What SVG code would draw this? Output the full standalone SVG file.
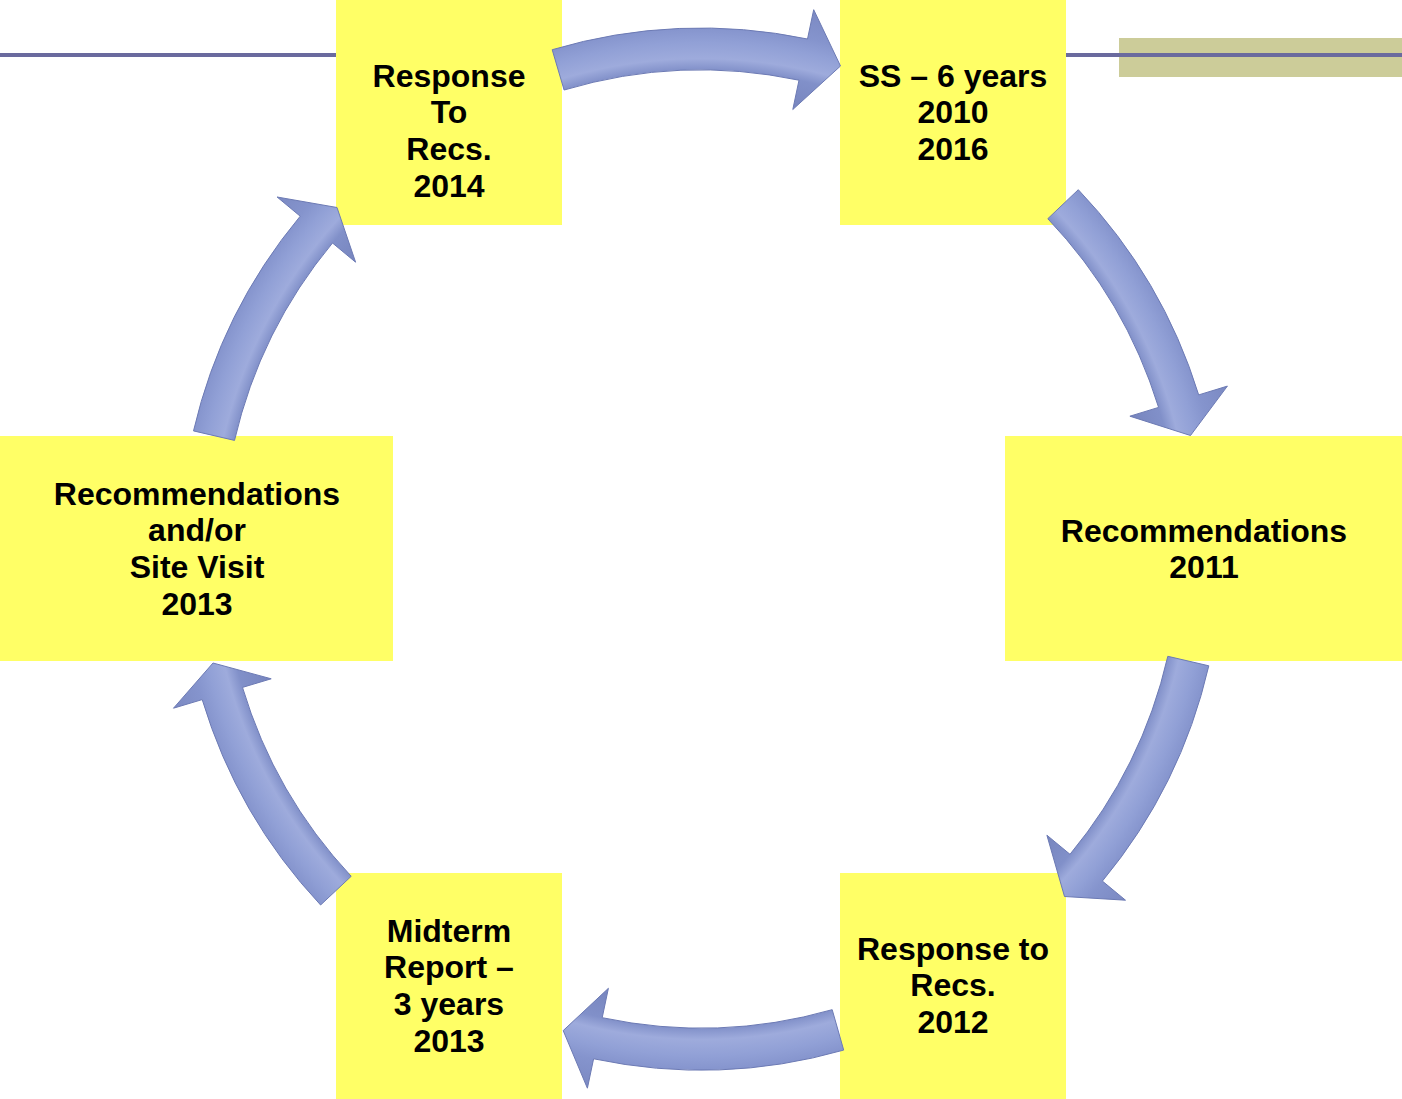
<svg xmlns="http://www.w3.org/2000/svg" width="1402" height="1099" viewBox="0 0 1402 1099">
<style>
.box{fill:#ffff66}
.t{font-family:"Liberation Sans",Arial,sans-serif;font-weight:bold;font-size:32px;fill:#000;text-anchor:middle}
.arr{fill:url(#tube);stroke:#6c7ab4;stroke-width:1;stroke-linejoin:miter}
</style>
<defs>
<radialGradient id="tube" gradientUnits="userSpaceOnUse" cx="701" cy="549" r="551">
<stop offset="0.81" stop-color="#7684bd"/>
<stop offset="0.869" stop-color="#8190c9"/>
<stop offset="0.89" stop-color="#9eabdc"/>
<stop offset="0.92" stop-color="#91a0d6"/>
<stop offset="0.946" stop-color="#8594cd"/>
<stop offset="1" stop-color="#7b89c2"/>
</radialGradient>
</defs>
<rect width="1402" height="1099" fill="#ffffff"/>
<g id="decor">
<rect x="1119" y="38" width="283" height="39" fill="#cccc99"/>
<line x1="0" y1="55" x2="336" y2="55" stroke="#6a6a9e" stroke-width="4"/>
<line x1="1066" y1="55" x2="1402" y2="55" stroke="#6a6a9e" stroke-width="4"/>
</g>
<g id="n1">
<rect class="box" x="336" y="0" width="226" height="225"/>
<text class="t"><tspan x="449" y="86.5">Response</tspan><tspan x="449" y="123.3">To</tspan><tspan x="449" y="160">Recs.</tspan><tspan x="449" y="196.8">2014</tspan></text>
</g>
<g id="n2">
<rect class="box" x="840" y="0" width="226" height="225"/>
<text class="t"><tspan x="953" y="86.5">SS – 6 years</tspan><tspan x="953" y="123.3">2010</tspan><tspan x="953" y="160">2016</tspan></text>
</g>
<g id="n3">
<rect class="box" x="1005" y="436" width="397" height="225"/>
<text class="t"><tspan x="1204" y="541.5">Recommendations</tspan><tspan x="1204" y="578.3">2011</tspan></text>
</g>
<g id="n4">
<rect class="box" x="840" y="873" width="226" height="226"/>
<text class="t"><tspan x="953" y="959.5">Response to</tspan><tspan x="953" y="996.3">Recs.</tspan><tspan x="953" y="1033">2012</tspan></text>
</g>
<g id="n5">
<rect class="box" x="336" y="873" width="226" height="226"/>
<text class="t"><tspan x="449" y="941.5">Midterm</tspan><tspan x="449" y="978.3">Report –</tspan><tspan x="449" y="1015">3 years</tspan><tspan x="449" y="1051.8">2013</tspan></text>
</g>
<g id="n6">
<rect class="box" x="0" y="436" width="393" height="225"/>
<text class="t"><tspan x="197" y="504.5">Recommendations</tspan><tspan x="197" y="541.3">and/or</tspan><tspan x="197" y="578.1">Site Visit</tspan><tspan x="197" y="614.9">2013</tspan></text>
</g>
<g id="connectors">
<path class="arr" d="M552.2,49.7 A521,521 0 0 1 807.5,39 L813.7,9.7 L840.5,66 L792.8,109.5 L799,80.2 A479,479 0 0 0 564.1,90 Z"/>
<path class="arr" d="M1078.3,189.7 A521,521 0 0 1 1198.7,394.9 L1227.4,386.1 L1190.5,435.5 L1129.9,416.2 L1158.6,407.4 A479,479 0 0 0 1047.8,218.7 Z"/>
<path class="arr" d="M1208.8,665.8 A521,521 0 0 1 1102.4,881.1 L1125.5,900.2 L1064.5,896.5 L1046.9,835.2 L1070,854.3 A479,479 0 0 0 1167.8,656.3 Z"/>
<path class="arr" d="M843.7,1050.1 A521,521 0 0 1 593.6,1058.8 L587.4,1088.2 L563.2,1030.6 L608.4,988.3 L602.2,1017.7 A479,479 0 0 0 832.2,1009.7 Z"/>
<path class="arr" d="M320.6,905 A521,521 0 0 1 202.2,699.6 L173.5,708.2 L213,663 L271.2,678.8 L242.5,687.4 A479,479 0 0 0 351.2,876.3 Z"/>
<path class="arr" d="M193.5,430.9 A521,521 0 0 1 300.2,216.2 L277.1,197 L337,207.5 L355.6,262.2 L332.5,243 A479,479 0 0 0 234.5,440.4 Z"/>
</g>
</svg>
